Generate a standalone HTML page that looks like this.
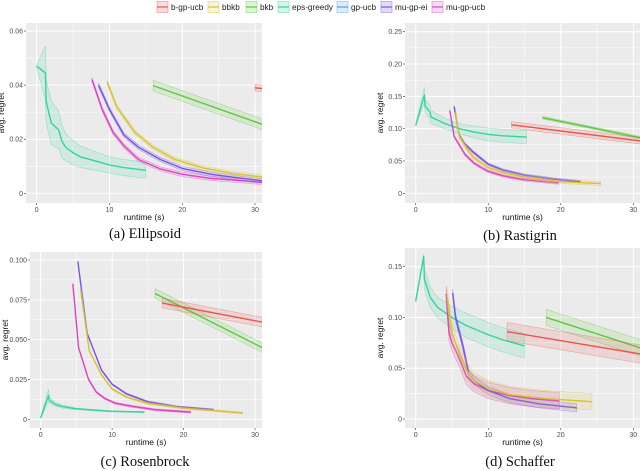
<!DOCTYPE html>
<html><head><meta charset="utf-8"><style>
html,body{margin:0;padding:0;background:#fff;}
svg{display:block;font-family:"Liberation Sans",sans-serif;}
</style></head><body>
<svg id="fig" width="640" height="471" viewBox="0 0 640 471" xmlns="http://www.w3.org/2000/svg"></svg>
<script>
// ---- legend ----
const seriesNames = ["b-gp-ucb","bbkb","bkb","eps-greedy","gp-ucb","mu-gp-ei","mu-gp-ucb"];
const seriesColors = ["#E8574F","#D8C232","#5CC93A","#35D49C","#4F9CF5","#7C52E8","#E043C2"];
const legendX = [157,208,246,278,337,381,432];

// ---- panel (a) Ellipsoid ----
const aEpsX=[0,1.2,1.3,2,3,3.5,4,5,6,8,10,12,15];
const aEpsY=[0.047,0.0445,0.034,0.026,0.0235,0.019,0.017,0.015,0.0135,0.012,0.0105,0.0095,0.0085];
const aEpsB=[0.0005,0.01,0.008,0.008,0.007,0.006,0.005,0.0045,0.004,0.0035,0.003,0.003,0.003];
const aMuUcbX=[7.6,9,10.5,12,14,17,20,24,28,31];
const aMuUcbY=[0.042,0.031,0.0225,0.0175,0.0125,0.009,0.007,0.0055,0.0047,0.004];
const aMuEiX=[8.5,10,12,14,17,20,24,28,31];
const aMuEiY=[0.040,0.031,0.0215,0.017,0.0125,0.0092,0.007,0.0056,0.0046];
const aBbkbX=[9.7,11,13.5,16,19,23,27,31];
const aBbkbY=[0.041,0.032,0.0225,0.017,0.0125,0.0093,0.0073,0.006];
const aBkbX=[16,31], aBkbY=[0.0398,0.0255];
const aBgpX=[30,31], aBgpY=[0.039,0.0387];

// ---- panel (b) Rastrigin ----
const bEpsX=[0,1.2,1.3,2,2.1,4,6,8,10,12,15.3];
const bEpsY=[0.105,0.152,0.135,0.125,0.118,0.108,0.100,0.095,0.091,0.089,0.087];
const bEpsB=[0.001,0.012,0.01,0.01,0.01,0.008,0.008,0.009,0.01,0.01,0.01];
const bMuUcbX=[4.7,5.3,6,6.8,8,9,10,12,15,19.7];
const bMuUcbY=[0.128,0.088,0.075,0.060,0.047,0.040,0.034,0.027,0.021,0.016];
const bMuEiX=[5.3,6,6.8,8,10,12,15,19,22.7];
const bMuEiY=[0.134,0.090,0.076,0.063,0.045,0.036,0.028,0.022,0.018];
const bBbkbX=[5.5,6,7,8,10,12,15,20,25.5];
const bBbkbY=[0.125,0.088,0.070,0.055,0.040,0.032,0.025,0.018,0.015];
const bBkbX=[17.5,31], bBkbY=[0.117,0.086];
const bBgpX=[13.2,31], bBgpY=[0.106,0.081];

// ---- panel (c) Rosenbrock ----
const cEpsX=[0,1.1,1.2,1.5,2,3,5,8,10,14.5];
const cEpsY=[0.001,0.015,0.012,0.011,0.0095,0.008,0.0066,0.0056,0.005,0.0045];
const cEpsB=[0.0005,0.004,0.002,0.0015,0.0012,0.001,0.0005,0.0004,0.0003,0.0003];
const cMuUcbX=[4.5,5.3,6.7,7.8,9,10.5,13,16,21];
const cMuUcbY=[0.085,0.045,0.025,0.017,0.013,0.010,0.008,0.006,0.0045];
const cMuEiX=[5.2,6.5,8.5,10,12,15,19,24.2];
const cMuEiY=[0.099,0.054,0.031,0.022,0.016,0.011,0.008,0.006];
const cBbkbX=[5.6,6.8,8.5,10,12,15,20,28.3];
const cBbkbY=[0.081,0.043,0.028,0.019,0.014,0.010,0.007,0.004];
const cBkbX=[16,31], cBkbY=[0.079,0.045];
const cBgpX=[17,31], cBgpY=[0.073,0.061];

// ---- panel (d) Schaffer ----
const dEpsX=[0,1.1,1.2,2,3,5,7,10,12,15];
const dEpsY=[0.116,0.160,0.138,0.120,0.110,0.100,0.092,0.083,0.078,0.072];
const dEpsB=[0.001,0.002,0.01,0.01,0.01,0.011,0.012,0.012,0.012,0.012];
const dMuUcbX=[4.2,4.6,5,6,7,8,10,13,16,19.8];
const dMuUcbY=[0.123,0.085,0.075,0.060,0.042,0.035,0.028,0.023,0.020,0.018];
const dMuEiX=[5.1,5.5,6.5,7.3,8,10,13,17,22.2];
const dMuEiY=[0.124,0.100,0.072,0.045,0.038,0.028,0.020,0.015,0.011];
const dBbkbX=[4.3,5,6,7,8,10,13,18,24.3];
const dBbkbY=[0.122,0.085,0.065,0.048,0.038,0.030,0.024,0.020,0.017];
const dBkbX=[18,31], dBkbY=[0.100,0.070];
const dBgpX=[12.6,31], dBgpY=[0.086,0.064];

// tick labels
const xTicks=[0,10,20,30];
const aYTicks=[0,0.02,0.04,0.06], aYLabels=["0","0.02","0.04","0.06"];
const bYTicks=[0,0.05,0.1,0.15,0.2,0.25], bYLabels=["0","0.05","0.10","0.15","0.20","0.25"];
const cYTicks=[0,0.025,0.05,0.075,0.1], cYLabels=["0","0.025","0.050","0.075","0.100"];
const dYTicks=[0,0.05,0.1,0.15], dYLabels=["0","0.05","0.10","0.15"];
const captions=["(a) Ellipsoid","(b) Rastigrin","(c) Rosenbrock","(d) Schaffer"];

const NS="http://www.w3.org/2000/svg";
const svg=document.getElementById('fig');
function mk(tag,attrs,parent){const e=document.createElementNS(NS,tag);for(const k in attrs)e.setAttribute(k,attrs[k]);(parent||svg).appendChild(e);return e;}

// legend
seriesNames.forEach((n,i)=>{
  const g=mk('g',{});
  
  
  const x=legendX[i];
  mk('rect',{x:x,y:1.5,width:11,height:11,fill:seriesColors[i],'fill-opacity':0.2,stroke:seriesColors[i],'stroke-opacity':0.5,'stroke-width':0.8},g);
  mk('line',{x1:x,x2:x+11,y1:7,y2:7,stroke:seriesColors[i],'stroke-width':1.2},g);
  const t=mk('text',{x:x+14,y:10,'font-size':8.2,fill:'#222'},g);t.textContent=n;
});

const panels=[
 {id:'a',L:26,R:262,T:23,B:203,x0:36.7,x30:255,y0:193.3,yTop:0.06,yTopPx:31,yTicks:aYTicks,yLabels:aYLabels,cap:[145,238],
  series:[[3,aEpsX,aEpsY,aEpsB],[6,aMuUcbX,aMuUcbY,0.0008],[5,aMuEiX,aMuEiY,0.0008],[1,aBbkbX,aBbkbY,0.0008],[2,aBkbX,aBkbY,0.002],[0,aBgpX,aBgpY,0.0012]]},
 {id:'b',L:405,R:640,T:23,B:203,x0:415.7,x30:633.3,y0:193.3,yTop:0.25,yTopPx:31.7,yTicks:bYTicks,yLabels:bYLabels,cap:[520,240],
  series:[[3,bEpsX,bEpsY,bEpsB],[6,bMuUcbX,bMuUcbY,0.002],[5,bMuEiX,bMuEiY,0.002],[1,bBbkbX,bBbkbY,0.003],[2,bBkbX,bBkbY,0.002],[0,bBgpX,bBgpY,0.005]]},
 {id:'c',L:30,R:262,T:252,B:428,x0:40.7,x30:255,y0:419.3,yTop:0.1,yTopPx:260,yTicks:cYTicks,yLabels:cYLabels,cap:[145,466],
  series:[[3,cEpsX,cEpsY,cEpsB],[6,cMuUcbX,cMuUcbY,0.0006],[5,cMuEiX,cMuEiY,0.0005],[1,cBbkbX,cBbkbY,0.0006],[2,cBkbX,cBkbY,0.003],[0,cBgpX,cBgpY,0.003]]},
 {id:'d',L:405,R:640,T:248,B:428,x0:415.7,x30:633.3,y0:419,yTop:0.15,yTopPx:266.7,yTicks:dYTicks,yLabels:dYLabels,cap:[520,466],
  series:[[3,dEpsX,dEpsY,dEpsB],[6,dMuUcbX,dMuUcbY,0.008],[5,dMuEiX,dMuEiY,0.004],[1,dBbkbX,dBbkbY,0.008],[2,dBkbX,dBkbY,0.008],[0,dBgpX,dBgpY,0.009]]}
];

panels.forEach(p=>{
  const g=mk('g',{});
  
  
  const sx=v=>p.x0+(p.x30-p.x0)*v/30;
  const sy=v=>p.y0-(p.y0-p.yTopPx)*v/p.yTop;
  const bg=mk('rect',{x:p.L,y:p.T,width:p.R-p.L,height:p.B-p.T,fill:'#EBEBEB'},g);
  
  
  // minor grid
  for(let i=0;i<xTicks.length;i++){const v=xTicks[i]+5;const x=sx(v);if(x<p.R)mk('line',{x1:x,x2:x,y1:p.T,y2:p.B,stroke:'#fff','stroke-width':0.5},g);}
  for(let i=0;i<p.yTicks.length-1;i++){const y=sy((p.yTicks[i]+p.yTicks[i+1])/2);mk('line',{x1:p.L,x2:p.R,y1:y,y2:y,stroke:'#fff','stroke-width':0.5},g);}
  // major grid + ticks
  xTicks.forEach(v=>{const x=sx(v);mk('line',{x1:x,x2:x,y1:p.T,y2:p.B,stroke:'#fff','stroke-width':1},g);
    mk('line',{x1:x,x2:x,y1:p.B,y2:p.B+2,stroke:'#333','stroke-width':0.6},g);
    const t=mk('text',{x:x,y:p.B+9,'font-size':7,fill:'#4d4d4d','text-anchor':'middle'},g);t.textContent=v;});
  p.yTicks.forEach((v,i)=>{const y=sy(v);mk('line',{x1:p.L,x2:p.R,y1:y,y2:y,stroke:'#fff','stroke-width':1},g);
    mk('line',{x1:p.L-2,x2:p.L,y1:y,y2:y,stroke:'#333','stroke-width':0.6},g);
    const t=mk('text',{x:p.L-3,y:y+2.5,'font-size':7,fill:'#4d4d4d','text-anchor':'end'},g);t.textContent=p.yLabels[i];});
  const cp=mk('clipPath',{id:'clip'+p.id},g);
  mk('rect',{x:p.L,y:p.T,width:p.R-p.L,height:p.B-p.T},cp);
  const sg=mk('g',{'clip-path':'url(#clip'+p.id+')'},g);
  p.series.forEach(s=>{
    const [ci,xs,ys,bw]=s;const col=seriesColors[ci];
    const b=i=>Array.isArray(bw)?bw[i]:bw;
    let up=[],lo=[],ln=[];
    xs.forEach((v,i)=>{up.push(sx(v)+','+sy(ys[i]+b(i)));lo.unshift(sx(v)+','+sy(ys[i]-b(i)));ln.push(sx(v)+','+sy(ys[i]));});
    const band=mk('polygon',{points:up.concat(lo).join(' '),fill:col,'fill-opacity':0.15,stroke:col,'stroke-opacity':0.45,'stroke-width':0.6},sg);
    
    
    const line=mk('polyline',{points:ln.join(' '),fill:'none',stroke:col,'stroke-width':1.4,'stroke-linejoin':'round'},sg);
    
    
  });
  const xt=mk('text',{x:(p.L+p.R)/2,y:p.B+17,'font-size':8.5,fill:'#111','text-anchor':'middle'},g);xt.textContent='runtime (s)';
  
  
  const yx=p.L-22, yy=(p.T+p.B)/2;
  const yt=mk('text',{x:yx,y:yy,'font-size':8.5,fill:'#111','text-anchor':'middle',transform:'rotate(-90 '+yx+' '+yy+')'},g);yt.textContent='avg. regret';
  
  
  const ct=mk('text',{x:p.cap[0],y:p.cap[1],'font-size':14.5,fill:'#111','text-anchor':'middle','font-family':'Liberation Serif, serif'},g);
  ct.textContent=captions['abcd'.indexOf(p.id)];
  
  
});
</script>
</body></html>
